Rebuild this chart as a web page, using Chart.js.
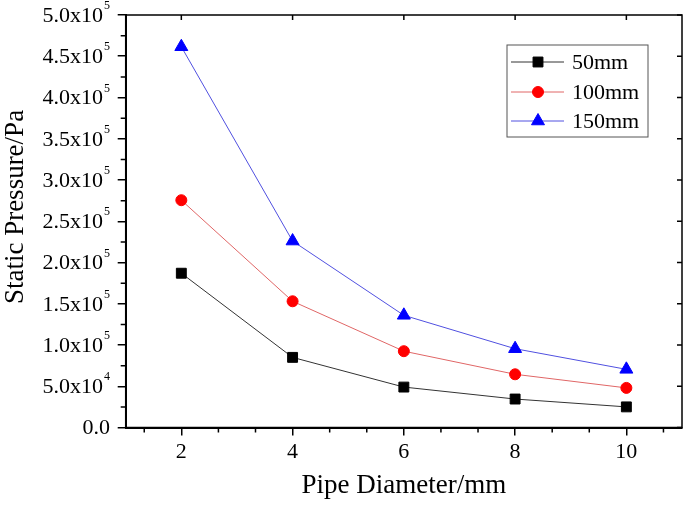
<!DOCTYPE html>
<html>
<head>
<meta charset="utf-8">
<script src="https://cdn.jsdelivr.net/npm/chart.js@4"></script>
<style>
  body { margin: 0; background: #fff; }
  canvas { display: block; }
</style>
</head>
<body>
<canvas id="pressureChart" width="685" height="506"></canvas>
<script>
const diameters = [2, 4, 6, 8, 10];
const p50 = [187000, 85000, 49000, 34500, 25000];
const p100 = [275500, 153000, 92500, 64500, 48000];
const p150 = [461500, 226000, 136000, 95500, 70500];
const xTicks = [2, 4, 6, 8, 10];
const yTicks = [0, 50000, 100000, 150000, 200000, 250000, 300000, 350000, 400000, 450000, 500000];

const FONT = '"Liberation Serif", "Times New Roman", serif';

function points(vals) {
    return diameters.map((d, i) => ({ x: d, y: vals[i] }));
}

function yLabel(v) {
    if (v === 0) return { main: '0.0', sup: '' };
    const e = Math.floor(Math.log10(v));
    return { main: (v / Math.pow(10, e)).toFixed(1) + 'x10', sup: String(e) };
}

// frame, minor ticks, y labels, y title and legend
const decorations = {
    id: 'decorations',
    afterDraw(chart) {
        const ctx = chart.ctx;
        const area = chart.chartArea;
        const x = chart.scales.x;
        const y = chart.scales.y;
        ctx.save();
        ctx.strokeStyle = '#000';

        ctx.lineWidth = 1.5;
        ctx.strokeRect(area.left, area.top, area.right - area.left, area.bottom - area.top);

        // minor ticks on bottom
        ctx.beginPath();
        for (let k = -1; k <= 13; k++) {
            if (k % 3 === 0) continue;
            const px = x.getPixelForValue(2 + k * 2 / 3);
            ctx.moveTo(px, area.bottom);
            ctx.lineTo(px, area.bottom + 5);
        }
        // minor ticks on left
        for (let v = 25000; v < 500000; v += 50000) {
            const py = y.getPixelForValue(v);
            ctx.moveTo(area.left, py);
            ctx.lineTo(area.left - 5, py);
        }
        // mirrored ticks top / right
        xTicks.forEach(v => {
            const px = x.getPixelForValue(v);
            ctx.moveTo(px, area.top);
            ctx.lineTo(px, area.top + 5);
        });
        yTicks.forEach(v => {
            const py = y.getPixelForValue(v);
            ctx.moveTo(area.right, py);
            ctx.lineTo(area.right - 5, py);
        });
        ctx.stroke();

        // y tick labels with exponent
        ctx.fillStyle = '#000';
        ctx.textBaseline = 'middle';
        ctx.textAlign = 'left';
        yTicks.forEach(v => {
            const lab = yLabel(v);
            const py = y.getPixelForValue(v);
            ctx.font = '22px ' + FONT;
            const wMain = ctx.measureText(lab.main).width;
            ctx.font = '12px ' + FONT;
            const wSup = lab.sup ? ctx.measureText(lab.sup).width + 1 : 0;
            const x0 = 110 - wMain - wSup;
            ctx.font = '22px ' + FONT;
            ctx.fillText(lab.main, x0, py + 1);
            if (lab.sup) {
                ctx.font = '12px ' + FONT;
                ctx.fillText(lab.sup, x0 + wMain + 1, py - 9);
            }
        });

        // y axis title
        ctx.save();
        ctx.translate(16, 207);
        ctx.rotate(-Math.PI / 2);
        ctx.textAlign = 'center';
        ctx.font = '27px ' + FONT;
        ctx.fillText('Static Pressure/Pa', 0, 0);
        ctx.restore();

        // legend
        ctx.lineWidth = 1;
        ctx.strokeStyle = '#555';
        ctx.strokeRect(507, 45, 141, 92);
        const rows = [62, 92, 121];
        chart.data.datasets.forEach((ds, i) => {
            const ry = rows[i];
            ctx.strokeStyle = ds.borderColor;
            ctx.lineWidth = 1;
            ctx.beginPath();
            ctx.moveTo(511, ry);
            ctx.lineTo(564, ry);
            ctx.stroke();
            ctx.fillStyle = ds.pointBackgroundColor;
            ctx.strokeStyle = ds.pointBorderColor;
            Chart.helpers.drawPoint(ctx, {
                pointStyle: ds.pointStyle,
                radius: ds.pointRadius,
                rotation: 0,
                borderWidth: 1
            }, 538, ry);
            ctx.fillStyle = '#000';
            ctx.font = '22px ' + FONT;
            ctx.textAlign = 'left';
            ctx.fillText(ds.label, 572, ry + 1);
        });
        ctx.restore();
    }
};

const ctx = document.getElementById('pressureChart').getContext('2d');
const pressureChart = new Chart(ctx, {
    type: 'line',
    data: {
        datasets: [{
            label: '50mm',
            data: points(p50),
            borderColor: '#333333',
            pointBackgroundColor: '#000000',
            pointBorderColor: '#000000',
            pointStyle: 'rect',
            pointRadius: 7,
            borderWidth: 1
        }, {
            label: '100mm',
            data: points(p100),
            borderColor: '#e06666',
            pointBackgroundColor: '#ff0000',
            pointBorderColor: '#ff0000',
            pointStyle: 'circle',
            pointRadius: 5.5,
            borderWidth: 1
        }, {
            label: '150mm',
            data: points(p150),
            borderColor: '#5050e0',
            pointBackgroundColor: '#0000ff',
            pointBorderColor: '#0000ff',
            pointStyle: 'triangle',
            pointRadius: 7.5,
            borderWidth: 1
        }]
    },
    options: {
        responsive: false,
        animation: false,
        layout: {
            autoPadding: false,
            padding: { top: 15, right: 3, left: 0, bottom: 0 }
        },
        plugins: {
            legend: { display: false },
            tooltip: { enabled: false }
        },
        scales: {
            x: {
                type: 'linear',
                min: 1,
                max: 11,
                afterBuildTicks: scale => {
                    scale.ticks = xTicks.map(v => ({ value: v }));
                },
                afterFit: scale => { scale.height = 78.5; },
                grid: {
                    drawOnChartArea: false,
                    drawTicks: true,
                    tickLength: 8,
                    color: '#000',
                    lineWidth: 1.5
                },
                border: { display: true, color: '#000', width: 2 },
                ticks: {
                    color: '#000',
                    padding: 4,
                    maxRotation: 0,
                    font: { family: FONT, size: 22 }
                },
                title: {
                    display: true,
                    text: 'Pipe Diameter/mm',
                    color: '#000',
                    padding: { top: 0, bottom: 4 },
                    font: { family: FONT, size: 27 }
                }
            },
            y: {
                min: 0,
                max: 500000,
                afterBuildTicks: scale => {
                    scale.ticks = yTicks.map(v => ({ value: v }));
                },
                afterFit: scale => { scale.width = 125.7; },
                grid: {
                    drawOnChartArea: false,
                    drawTicks: true,
                    tickLength: 8,
                    color: '#000',
                    lineWidth: 1.5
                },
                border: { display: true, color: '#000', width: 2 },
                ticks: { display: false }
            }
        }
    },
    plugins: [decorations]
});
</script>
</body>
</html>
